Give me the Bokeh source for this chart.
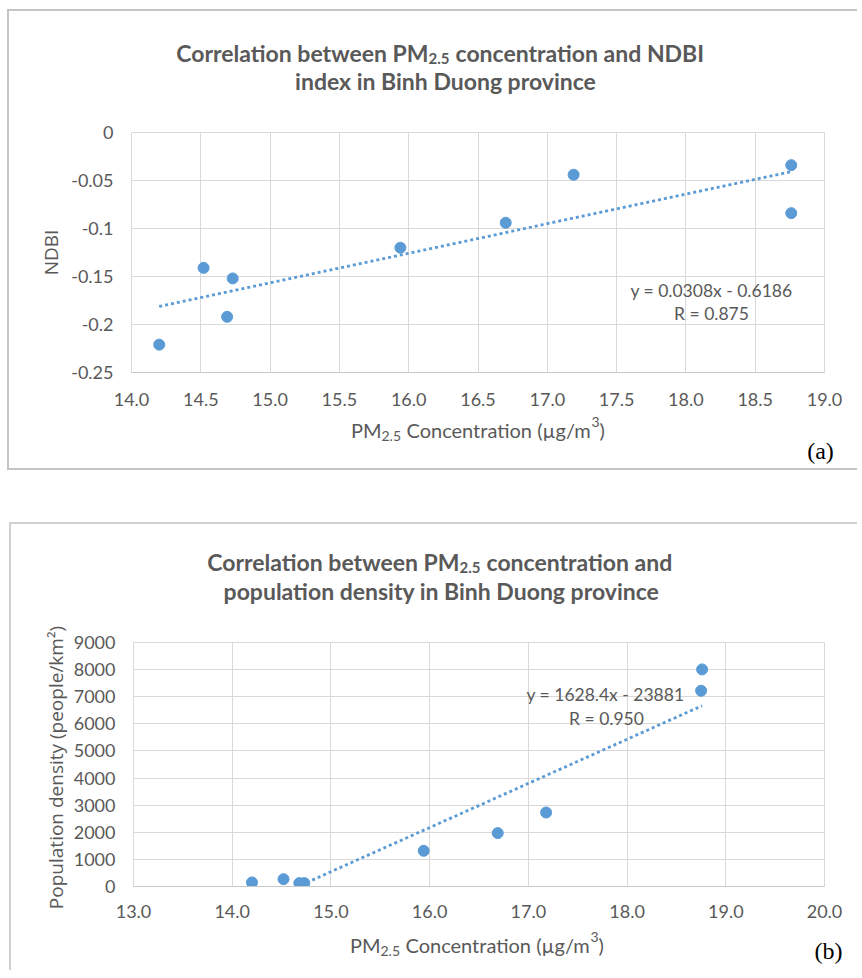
import math
from bokeh.plotting import figure
from bokeh.models import Label, FixedTicker, NumeralTickFormatter, CustomJSTickFormatter, GridBox
from bokeh.layouts import column
from bokeh.embed import file_html
from bokeh.resources import INLINE

# ---------------- data (a): PM2.5 vs NDBI ----------------
pm_a = [14.20, 14.52, 14.69, 14.73, 15.94, 16.70, 17.19, 18.76, 18.76]
ndbi = [-0.221, -0.141, -0.192, -0.152, -0.120, -0.094, -0.044, -0.034, -0.084]
slope_a, icpt_a = 0.0308, -0.6186
eq_a = ["y = 0.0308x - 0.6186", "R = 0.875"]
x_ticks_a = [14.0, 14.5, 15.0, 15.5, 16.0, 16.5, 17.0, 17.5, 18.0, 18.5, 19.0]
y_ticks_a = [0, -0.05, -0.1, -0.15, -0.2, -0.25]

# ---------------- data (b): PM2.5 vs population density ----------------
pm_b = [14.20, 14.52, 14.68, 14.73, 15.94, 16.69, 17.18, 18.76, 18.75]
dens = [150, 270, 125, 125, 1317, 1970, 2730, 8007, 7220]
slope_b, icpt_b = 1628.4, -23881
eq_b = ["y = 1628.4x - 23881", "R = 0.950"]
x_ticks_b = [13.0, 14.0, 15.0, 16.0, 17.0, 18.0, 19.0, 20.0]
y_ticks_b = [0, 1000, 2000, 3000, 4000, 5000, 6000, 7000, 8000, 9000]

BLUE = "#5b9bd5"
TXT = "#595959"
GRID = "#d9d9d9"
SANS = "Lato"


def style_axes(p, xt, yt, xfmt, yfmt, xstand):
    p.xaxis.ticker = FixedTicker(ticks=xt)
    p.yaxis.ticker = FixedTicker(ticks=yt)
    p.xaxis.formatter = xfmt
    p.yaxis.formatter = yfmt
    for ax in p.axis:
        ax.major_tick_line_color = None
        ax.minor_tick_line_color = None
        ax.major_tick_out = 0
        ax.major_tick_in = 0
        ax.major_label_text_font = SANS
        ax.major_label_text_font_size = "18px"
        ax.major_label_text_color = TXT
    p.yaxis.axis_line_color = None
    p.xaxis.axis_line_color = "#c8c8c8"
    p.xaxis.major_label_standoff = xstand
    p.yaxis.major_label_standoff = 18
    p.grid.grid_line_color = GRID
    p.grid.grid_line_width = 1
    p.outline_line_color = GRID
    p.background_fill_color = "white"
    p.border_fill_color = "white"


def inside_label(p, mbl, fb, lx, ly, text, size):
    # screen units relative to frame bottom-left; lx, ly are canvas pixels
    p.add_layout(Label(x=lx - mbl, y=fb - ly, x_units="screen", y_units="screen", text=text,
                       text_font=SANS, text_font_size=f"{size}px", text_color=TXT,
                       text_align="center", text_baseline="middle"))


TREND = dict(line_color=BLUE, line_width=2.8, line_dash="3 3")

# ---------------- figure (a) ----------------
W1, H1, L1, R1, T1, FH1 = 850, 461, 122, 19, 121, 240
xr_a, yr_a = (14.0, 19.0), (-0.25, 0.0)
p1 = figure(width=W1, height=H1, x_range=xr_a, y_range=yr_a, output_backend="svg",
            toolbar_location=None, title=None, min_border_left=L1, min_border_right=R1,
            min_border_top=T1, min_border_bottom=H1 - T1 - FH1, margin=(9, 0, 0, 7))
style_axes(p1, x_ticks_a, y_ticks_a, NumeralTickFormatter(format="0.0"),
           CustomJSTickFormatter(code="var s=(Math.round(tick*100)/100).toString(); return s=='-0'?'0':s;"),
           20)
p1.scatter(pm_a, ndbi, size=11, color=BLUE)
xa = [min(pm_a), max(pm_a)]
p1.line(xa, [slope_a * v + icpt_a for v in xa], **TREND)
inside_label(p1, L1, T1 + FH1, 702, 279, eq_a[0], 17.5)
inside_label(p1, L1, T1 + FH1, 702, 302, eq_a[1], 17.5)
p1.styles = {"border-top": "2px solid #c4c4c4", "border-left": "2px solid #c4c4c4",
             "border-bottom": "2px solid #c4c4c4"}

# ---------------- figure (b) ----------------
W2, H2, L2, R2, T2, FH2 = 848, 448, 120, 35, 118, 244
xr_b, yr_b = (13.0, 20.0), (0.0, 9000.0)
p2 = figure(width=W2, height=H2, x_range=xr_b, y_range=yr_b, output_backend="svg",
            toolbar_location=None, title=None, min_border_left=L2, min_border_right=R2,
            min_border_top=T2, min_border_bottom=H2 - T2 - FH2, margin=(0, 0, 0, 9))
style_axes(p2, x_ticks_b, y_ticks_b, NumeralTickFormatter(format="0.0"),
           NumeralTickFormatter(format="0"), 18)
p2.scatter(pm_b, dens, size=11, color=BLUE)
xb = [min(pm_b), max(pm_b)]
p2.line(xb, [slope_b * v + icpt_b for v in xb], **TREND)
inside_label(p2, L2, T2 + FH2, 592, 170, eq_b[0], 17.5)
inside_label(p2, L2, T2 + FH2, 593, 194, eq_b[1], 17.5)
p2.styles = {"border-top": "2px solid #d0d0d0", "border-left": "2px solid #d0d0d0"}

charts = column(p1, p2, spacing=52)

# ---------------- transparent text layer (page pixel coordinates) ----------------
OW, OH = 855, 972
ov = figure(width=OW, height=OH, x_range=(0, OW), y_range=(OH, 0), output_backend="svg",
            toolbar_location=None, title=None, x_axis_type=None, y_axis_type=None,
            min_border=0)
ov.grid.visible = False
ov.outline_line_color = None
ov.background_fill_alpha = 0
ov.border_fill_alpha = 0


def txt(x, y, text, size, font=SANS, style="normal", color=TXT, align="center",
        baseline="middle", angle=0.0, yoff=0):
    ov.add_layout(Label(x=x, y=y, text=text, text_font=font, text_font_size=f"{size}px",
                        text_font_style=style, text_color=color, text_align=align,
                        text_baseline=baseline, angle=angle, y_offset=yoff))


def rich(anchor, by, head, parts, style="normal"):
    """head (text, size) is right-aligned at anchor; parts follow left-aligned."""
    txt(anchor, by, head[0], head[1], style=style, align="right", baseline="alphabetic")
    x = anchor
    for text, size, dy, w in parts:
        txt(x, by, text, size, style=style, align="left", baseline="alphabetic", yoff=dy)
        x += w


XT = [("2.5", 14, -6, 25), ("Concentration (µg/m", 20, 0, 185), ("3", 14, 8, 8), (")", 20, 0, 7)]

# chart (a) texts
rich(428, 52, ("Correlation between PM", 23),
     [("2.5", 15, -6, 27), ("concentration and NDBI", 23, 0, 251)], style="bold")
txt(445, 80, "index in Binh Duong province", 23, style="bold")
txt(50, 252, "NDBI", 19, font="Open Sans", angle=math.pi / 2)
rich(381, 429, ("PM", 20), XT)
txt(820, 450, "(a)", 24, font="Liberation Serif", color="black")

# chart (b) texts
rich(459, 561, ("Correlation between PM", 23),
     [("2.5", 15, -6, 27), ("concentration and", 23, 0, 204)], style="bold")
txt(441, 590, "population density in Binh Duong province", 23, style="bold")
txt(55, 767, "Population density (people/km²)", 19, font="Open Sans", angle=math.pi / 2)
rich(380, 944, ("PM", 20), XT)
txt(828, 950, "(b)", 24, font="Liberation Serif", color="black")

layout = GridBox(children=[(charts, 0, 0), (ov, 0, 0)])
open("out.html", "w").write(file_html(layout, INLINE))
